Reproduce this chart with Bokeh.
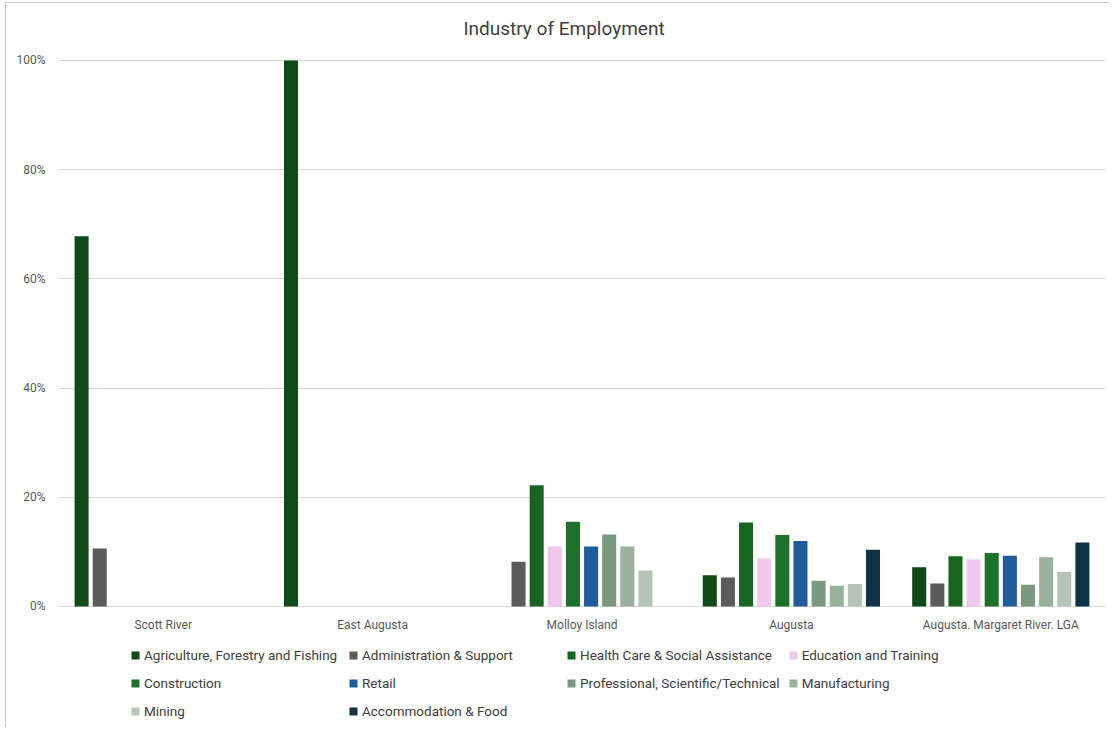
from bokeh.plotting import figure
from bokeh.models import (FactorRange, Range1d, Legend, LegendItem, PrintfTickFormatter,
                          FixedTicker, ColumnDataSource, Label)
from bokeh.transform import dodge
from bokeh.embed import file_html
from bokeh.resources import INLINE

title_text = "Industry of Employment"

locations = ["Scott River", "East Augusta", "Molloy Island", "Augusta", "Augusta. Margaret River. LGA"]

industries = [
    "Agriculture, Forestry and Fishing",
    "Administration & Support",
    "Health Care & Social Assistance",
    "Education and Training",
    "Construction",
    "Retail",
    "Professional, Scientific/Technical",
    "Manufacturing",
    "Mining",
    "Accommodation & Food",
]

agriculture = [67.8, 100.0, 0.0, 5.7, 7.2]
administration = [10.6, 0.0, 8.2, 5.3, 4.2]
health = [0.0, 0.0, 22.2, 15.4, 9.2]
education = [0.0, 0.0, 11.0, 8.8, 8.6]
construction = [0.0, 0.0, 15.5, 13.1, 9.8]
retail = [0.0, 0.0, 11.0, 12.0, 9.3]
professional = [0.0, 0.0, 13.2, 4.7, 4.0]
manufacturing = [0.0, 0.0, 11.0, 3.8, 9.0]
mining = [0.0, 0.0, 6.6, 4.1, 6.3]
accommodation = [0.0, 0.0, 0.0, 10.4, 11.7]

series = [agriculture, administration, health, education, construction,
          retail, professional, manufacturing, mining, accommodation]

colors = ["#0f4a17", "#5b5b5b", "#17651f", "#f0c8ec", "#1c7229",
          "#1f5c9c", "#7a997e", "#98b29b", "#b4c5b7", "#0e3246"]

keys = ["s%d" % i for i in range(len(series))]
data = {"loc": locations}
for k, s in zip(keys, series):
    data[k] = s
src = ColumnDataSource(data)

# frame extends above 100% (title room) and below zero (category labels + legend)
p = figure(x_range=FactorRange(factors=locations, range_padding=0),
           y_range=Range1d(-21.8, 110.43),
           width=1104, height=725,
           output_backend="svg", toolbar_location=None,
           min_border_left=52, min_border_right=5, min_border_top=0,
           min_border_bottom=3)
p.styles = {"margin-left": "5px", "margin-top": "2px",
            "border-left": "1px solid #c9c9c9", "border-top": "1px solid #c9c9c9"}
p.title.visible = False

p.add_layout(Label(x=2.414, y=105.86, text=title_text, text_align="center",
                   text_baseline="middle", text_font="Roboto", text_font_size="19px",
                   text_color="#404040"))

step = 0.0866
renderers = []
for i, (k, c) in enumerate(zip(keys, colors)):
    r = p.vbar(x=dodge("loc", (i - 4.5) * step, range=p.x_range), top=k, width=0.067,
               source=src, fill_color=c, line_color=None)
    renderers.append(r)

p.outline_line_color = None
p.xgrid.grid_line_color = None
p.ygrid.grid_line_color = "#d9d9d9"
p.ygrid.grid_line_width = 1

p.yaxis.ticker = FixedTicker(ticks=[0, 20, 40, 60, 80, 100])
p.yaxis.formatter = PrintfTickFormatter(format="%d%%")
p.xaxis.fixed_location = 0
for ax in (p.xaxis, p.yaxis):
    ax.axis_line_color = None
    ax.major_tick_line_color = None
    ax.minor_tick_line_color = None
    ax.major_label_text_font = "Roboto"
    ax.major_label_text_color = "#595959"
p.yaxis.major_label_text_font_size = "12px"
p.xaxis.major_label_text_font_size = "12px"
p.xaxis.major_label_standoff = 6
p.yaxis.major_label_standoff = 7

items = [LegendItem(label=n, renderers=[r]) for n, r in zip(industries, renderers)]
legend = Legend(items=items, ncols=4, orientation="horizontal", location=(72, 4),
                glyph_width=10, glyph_height=10, label_standoff=4,
                label_width=196, label_height=20, spacing=8,
                label_text_font="Roboto", label_text_font_size="13.5px",
                label_text_color="#404040", padding=0, margin=0,
                border_line_color=None, background_fill_alpha=0)
p.add_layout(legend, "center")

open("out.html", "w").write(file_html(p, INLINE))
